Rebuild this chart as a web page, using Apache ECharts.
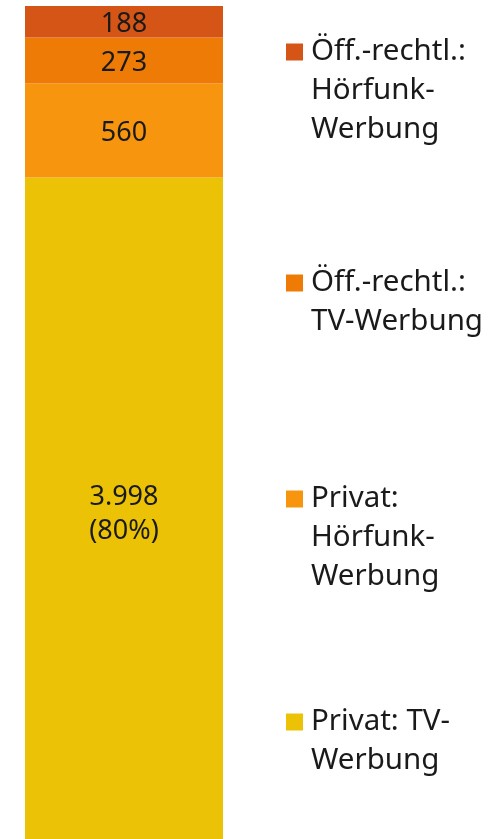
<!DOCTYPE html>
<html>
<head>
<meta charset="utf-8">
<script src="https://cdn.jsdelivr.net/npm/echarts@6/dist/echarts.min.js"></script>
<style>
html,body{margin:0;padding:0;background:#fff;overflow:hidden;}
#main{width:496px;height:849px;}
</style>
</head>
<body>
<div id="main"></div>
<script>
// Werbeumsatz, gestapelt von unten nach oben
var seriesNames = ['Privat: TV-Werbung', 'Privat: Hörfunk-Werbung', 'Öff.-rechtl.: TV-Werbung', 'Öff.-rechtl.: Hörfunk-Werbung'];
var seriesValues = [3998, 560, 273, 188];
var seriesColors = ['#EBC205', '#F7960E', '#EE7B06', '#D55516'];
// legend texts with line breaks as in the picture
var legendTexts = ['Privat: TV-\nWerbung', 'Privat:\nHörfunk-\nWerbung', 'Öff.-rechtl.:\nTV-Werbung', 'Öff.-rechtl.:\nHörfunk-\nWerbung'];
var legendIconY = [722, 499, 283, 52];

var total = 0;
seriesValues.forEach(function (v) { total += v; });

function fmt(v) {
    return String(v).replace(/\B(?=(\d{3})+(?!\d))/g, '.');
}

var LH = 39;
var legends = [];
var series = [];
for (var i = 0; i < seriesNames.length; i++) {
    var n = legendTexts[i].split('\n').length;
    var sq = (LH - 17) / 2;
    // tall icon box, square sits next to the first text line
    var iconPath = 'path://M0,0M20,' + (n * LH) + 'M0,' + sq + 'h17v17h-17z';
    legends.push({
        data: [{ name: seriesNames[i], icon: iconPath }],
        left: 286,
        top: legendIconY[i] - LH / 2,
        padding: 0,
        itemWidth: 20,
        itemHeight: n * LH,
        itemGap: 0,
        selectedMode: false,
        formatter: (function (t) { return function () { return t; }; })(legendTexts[i]),
        textStyle: {
            fontFamily: 'Noto Sans',
            fontSize: 29.5,
            color: '#1a1a1a',
            lineHeight: LH
        }
    });
    series.push({
        name: seriesNames[i],
        type: 'bar',
        stack: 'all',
        barWidth: '100%',
        data: [seriesValues[i]],
        itemStyle: { color: seriesColors[i] },
        label: {
            show: true,
            position: 'inside',
            offset: [0, i === 0 ? 1 : 3],
            fontFamily: 'Noto Sans',
            fontSize: 27,
            lineHeight: 34,
            color: '#1a1a1a',
            formatter: (function (idx) {
                return function (p) {
                    if (idx === 0) {
                        return fmt(p.value) + '\n(' + Math.round(p.value / total * 100) + '%)';
                    }
                    return fmt(p.value);
                };
            })(i)
        }
    });
}

var myChart = echarts.init(document.getElementById('main'));
var option = {
    animation: false,
    legend: legends,
    grid: { left: 25, right: 273, top: 6, bottom: 0 },
    xAxis: { type: 'category', data: [''], show: false },
    yAxis: { type: 'value', min: 0, max: total, show: false },
    series: series
};
myChart.setOption(option);
</script>
</body>
</html>
